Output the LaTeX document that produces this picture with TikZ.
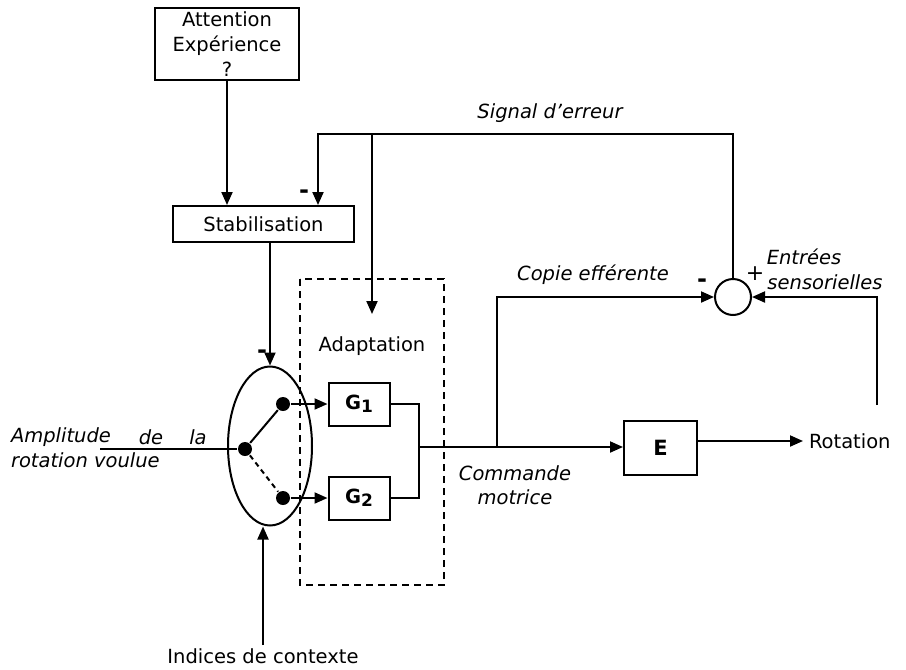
\documentclass[tikz,border=0pt]{standalone}
\usepackage{fontspec}
\setmainfont{DejaVu Sans}
\usetikzlibrary{arrows.meta,shapes.geometric}
\begin{document}
\begin{tikzpicture}[x=1pt,y=-1pt,line width=2pt,
  font=\fontsize{19.5}{25}\selectfont,
  arr/.style={-{Triangle[length=13pt,width=11pt]}},
  box/.style={draw,inner sep=0pt},
  dot/.style={circle,fill,inner sep=0pt,minimum size=14pt},
  lbl/.style={font=\fontsize{19.5}{25}\selectfont\itshape,inner sep=0pt},
  txt/.style={inner sep=0pt},
  sign/.style={font=\fontsize{24}{25}\selectfont\bfseries,inner sep=0pt},
  gbox/.style={box,minimum width=61pt,minimum height=43pt,font=\fontsize{19.5}{25}\selectfont\bfseries}]
\useasboundingbox (0,0) rectangle (906,670);

% boxes
\node[box,minimum width=144pt,minimum height=72pt,align=center] (att) at (227,44) {Attention\\Expérience\\?};
\node[box,minimum width=181pt,minimum height=36pt] (stab) at (263.5,224) {Stabilisation};
\node[draw,ellipse,inner sep=0pt,minimum width=84pt,minimum height=159pt] (ell) at (270,446) {};
\node[dot] (d0) at (245,449) {};
\node[dot] (d1) at (283,404) {};
\node[dot] (d2) at (283,498) {};
\node[gbox] (g1) at (359,404) {G\raisebox{-0.3ex}{\fontsize{17}{20}\selectfont 1}};
\node[gbox] (g2) at (359,498) {G\raisebox{-0.3ex}{\fontsize{17}{20}\selectfont 2}};
\node[box,minimum width=73pt,minimum height=54pt,font=\fontsize{21}{25}\selectfont\bfseries] (E) at (660.5,448) {E};
\node[draw,circle,inner sep=0pt,minimum size=36pt] (cmp) at (733,297) {};
\node[txt,anchor=west,inner sep=5pt] (rot) at (803,441) {Rotation};

% dashed adaptation box
\draw[dash pattern=on 7pt off 5pt] (300,279) rectangle (444,585);
\node[txt] (adap) at (372,346) {Adaptation};

% coordinates
\coordinate (tl) at (318,134);
\coordinate (ta) at (372,134);
\coordinate (ae) at (372,314);
\coordinate (j) at (419,447);
\coordinate (cb) at (497,447);
\coordinate (sb) at (877,405);
\coordinate (in) at (100,449);
\coordinate (ib) at (263,645);

% connectors
\draw[arr] (att.south) -- (att.south |- stab.north);
\draw[arr] (cmp.north) |- (tl) -- (tl |- stab.north);
\draw[arr] (ta) -- (ae);
\draw[arr] (stab.south -| ell.north) -- (ell.north);
\draw (in) -- (d0);
\draw (d0) -- (d1);
\draw[dash pattern=on 5pt off 4pt] (d0) -- (d2);
\draw[arr] (d1) -- (g1.west);
\draw[arr] (d2) -- (g2.west);
\draw (g1.east) -| (j) |- (g2.east);
\draw[arr] (j) -- (j -| E.west);
\draw[arr] (E.east |- rot.west) -- (rot.west);
\draw[arr] (cb) |- (cmp.west);
\draw[arr] (sb) |- (cmp.east);
\draw[arr] (ib) -- (ib |- ell.south);

% labels
\node[lbl] (sig) at (550,113) {Signal d’erreur};
\node[lbl] (cop) at (593,275) {Copie efférente};
\node[lbl] (ent) at (804,257) {Entrées};
\node[lbl] (sen) at (825,282) {sensorielles};
\node[lbl] (com) at (515,473) {Commande};
\node[lbl] (mot) at (515,497) {motrice};
\node[lbl,anchor=west] (amp) at (10,437) {Amplitude};
\node[lbl] (de) at (151,437) {de};
\node[lbl] (la) at (198,437) {la};
\node[lbl,anchor=west] (rv) at (10,460) {rotation voulue};
\node[txt] (ind) at (263,656) {Indices de contexte};

% signs
\node[sign] (m1) at (304,194) {-};
\node[sign] (m2) at (262,354) {-};
\node[sign] (m3) at (702,283) {-};
\node[txt,font=\fontsize{22}{25}\selectfont] (p1) at (755,274) {+};
\end{tikzpicture}
\end{document}
